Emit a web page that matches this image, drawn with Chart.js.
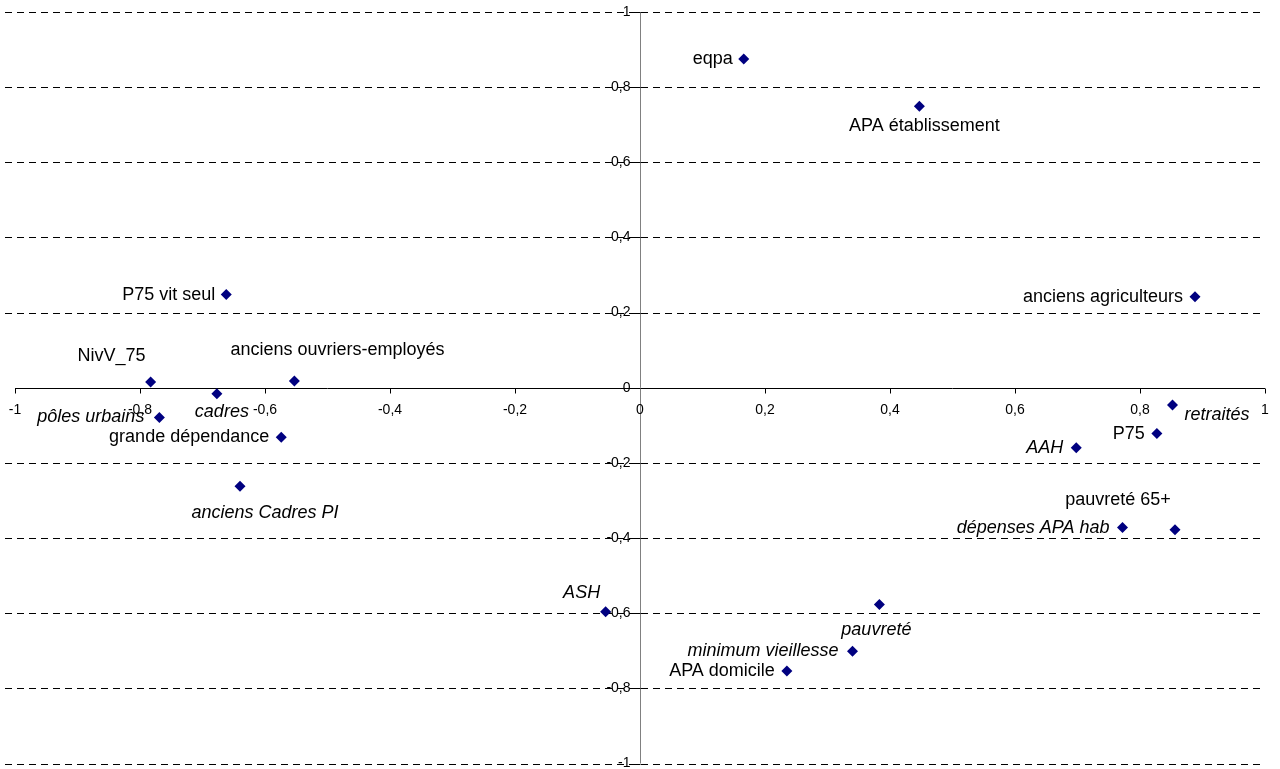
<!DOCTYPE html>
<html lang="fr">
<head>
    <title>Cercle des corrélations</title>
    <script src="https://cdn.jsdelivr.net/npm/chart.js"></script>
    <style>
        body { margin: 0; background: #fff; }
        #chartContainer { width: 1280px; height: 769px; }
    </style>
</head>
<body>

<div id="chartContainer">
    <canvas id="acpChart" width="1280" height="769"></canvas>
</div>

<script>
// Variables (coordonnées sur les axes 1 et 2)
const names = [
    'eqpa', 'APA établissement', 'anciens agriculteurs', 'P75 vit seul',
    'anciens ouvriers-employés', 'NivV_75', 'cadres', 'pôles urbains',
    'grande dépendance', 'anciens Cadres PI', 'retraités', 'P75', 'AAH',
    'dépenses APA hab', 'pauvreté 65+', 'ASH', 'pauvreté',
    'minimum vieillesse', 'APA domicile'
];
const xValues = [
    0.166, 0.447, 0.888, -0.662,
    -0.553, -0.783, -0.677, -0.769,
    -0.574, -0.640, 0.852, 0.827, 0.698,
    0.772, 0.856, -0.055, 0.383,
    0.340, 0.235
];
const yValues = [
    0.875, 0.749, 0.242, 0.248,
    0.018, 0.015, -0.016, -0.079,
    -0.132, -0.262, -0.046, -0.122, -0.160,
    -0.372, -0.378, -0.596, -0.577,
    -0.701, -0.754
];

// graduations des deux axes
const tickValues = [-1, -0.8, -0.6, -0.4, -0.2, 0, 0.2, 0.4, 0.6, 0.8, 1];
const tickLabels = ['-1', '-0,8', '-0,6', '-0,4', '-0,2', '0', '0,2', '0,4', '0,6', '0,8', '1'];

// placement des étiquettes (pixels, relatif au point)
const labelPlacement = [
    { align: 'right', dx: -11, dy: 0 },
    { align: 'center', dx: 5, dy: 20 },
    { align: 'right', dx: -12, dy: 0 },
    { align: 'right', dx: -11, dy: 0 },
    { align: 'left', dx: -64, dy: -31 },
    { align: 'right', dx: -5, dy: -26 },
    { align: 'center', dx: 5, dy: 18, italic: true },
    { align: 'right', dx: -15, dy: 0, italic: true },
    { align: 'right', dx: -12, dy: 0 },
    { align: 'center', dx: 25, dy: 27, italic: true },
    { align: 'left', dx: 12, dy: 10, italic: true },
    { align: 'right', dx: -12, dy: 0 },
    { align: 'right', dx: -13, dy: 0, italic: true },
    { align: 'right', dx: -13, dy: 0, italic: true },
    { align: 'center', dx: -57, dy: -30 },
    { align: 'center', dx: -24, dy: -19, italic: true },
    { align: 'center', dx: -3, dy: 25, italic: true },
    { align: 'right', dx: -14, dy: 0, italic: true },
    { align: 'right', dx: -12, dy: 0 }
];

const FONT = '"Liberation Sans", Arial, sans-serif';

// axes centrés + grille pointillée
const centerAxes = {
    id: 'centerAxes',
    beforeDatasetsDraw(chart) {
        const ctx = chart.ctx;
        const xs = chart.scales.x;
        const ys = chart.scales.y;
        const area = chart.chartArea;
        const x0 = Math.round(xs.getPixelForValue(0)) + 0.5;
        const y0 = Math.round(ys.getPixelForValue(0)) + 0.5;

        ctx.save();
        // grille horizontale
        ctx.strokeStyle = '#000';
        ctx.lineWidth = 1;
        ctx.setLineDash([7, 5]);
        tickValues.forEach(v => {
            if (v === 0) return;
            const y = Math.round(ys.getPixelForValue(v)) + 0.5;
            ctx.beginPath();
            ctx.moveTo(5, y);
            ctx.lineTo(area.right, y);
            ctx.stroke();
        });
        ctx.setLineDash([]);

        // axe horizontal
        ctx.strokeStyle = '#000';
        ctx.beginPath();
        ctx.moveTo(area.left, y0);
        ctx.lineTo(area.right, y0);
        tickValues.forEach(v => {
            const x = Math.round(xs.getPixelForValue(v)) + 0.5;
            ctx.moveTo(x, y0);
            ctx.lineTo(x, y0 + 5);
        });
        ctx.stroke();

        // axe vertical
        ctx.strokeStyle = '#808080';
        ctx.beginPath();
        ctx.moveTo(x0, area.top);
        ctx.lineTo(x0, area.bottom);
        ctx.stroke();
        ctx.strokeStyle = '#000';
        ctx.beginPath();
        tickValues.forEach(v => {
            const y = Math.round(ys.getPixelForValue(v)) + 0.5;
            ctx.moveTo(x0 - 9, y);
            ctx.lineTo(x0, y);
        });
        ctx.stroke();

        // libellés des graduations
        ctx.fillStyle = '#000';
        ctx.font = '14px ' + FONT;
        ctx.textAlign = 'right';
        ctx.textBaseline = 'middle';
        tickValues.forEach((v, i) => {
            ctx.fillText(tickLabels[i], x0 - 10, ys.getPixelForValue(v));
        });
        ctx.textAlign = 'center';
        ctx.textBaseline = 'top';
        tickValues.forEach((v, i) => {
            ctx.fillText(tickLabels[i], xs.getPixelForValue(v), y0 + 15);
        });
        ctx.restore();
    },
    afterDatasetsDraw(chart) {
        const ctx = chart.ctx;
        const meta = chart.getDatasetMeta(0);
        ctx.save();
        ctx.fillStyle = '#000';
        ctx.textBaseline = 'middle';
        meta.data.forEach((pt, i) => {
            const p = labelPlacement[i];
            ctx.font = (p.italic ? 'italic ' : '') + '18px ' + FONT;
            ctx.textAlign = p.align;
            ctx.fillText(names[i], pt.x + p.dx, pt.y + p.dy);
        });
        ctx.restore();
    }
};

const points = xValues.map((x, i) => ({ x: x, y: yValues[i] }));

new Chart(document.getElementById('acpChart'), {
    type: 'scatter',
    data: {
        datasets: [{
            label: 'variables',
            data: points,
            pointStyle: 'rectRot',
            pointRadius: 5.5,
            pointHoverRadius: 5.5,
            backgroundColor: '#000080',
            borderColor: '#000080',
            borderWidth: 0
        }]
    },
    options: {
        responsive: false,
        animation: false,
        layout: { padding: { left: 15, right: 15, top: 12, bottom: 3 } },
        plugins: {
            legend: { display: false },
            tooltip: { enabled: false }
        },
        scales: {
            x: { type: 'linear', min: -1, max: 1, display: false },
            y: { type: 'linear', min: -1, max: 1, display: false }
        }
    },
    plugins: [centerAxes]
});
</script>

</body>
</html>
